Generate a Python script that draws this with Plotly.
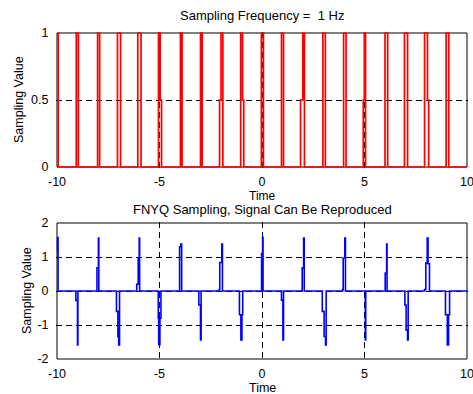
import plotly.graph_objects as go

# ---- data ----
# top panel: step signal (value changes at given times)
top_t = [-10, -9.94, -9.06, -8.96, -8.02, -7.92, -7.05, -6.9, -6.06, -5.9,
         -5.05, -4.97, -4.9, -3.98, -3.9, -3.0, -2.92, -2.07, -2.0, -1.91,
         -1.04, -0.95, -0.89, -0.03, 0.07, 0.95, 1.05, 1.88, 1.99, 2.07,
         2.97, 3.09, 3.98, 4.1, 4.94, 4.99, 5.05, 6.0, 6.13, 6.95, 7.1,
         7.93, 8.07, 8.13, 8.98, 9.11, 10]
top_v = [1, 0, 1, 0, 1, 0, 1, 0, 1, 0,
         1, 0.5, 0, 1, 0, 1, 0, 0.5, 1, 0,
         1, 0.5, 0, 1, 0, 1, 0, 0.5, 1, 0,
         1, 0, 1, 0, 0.5, 1, 0, 1, 0, 1, 0,
         1, 0.5, 0, 1, 0, 0]

# bottom panel: sampled signal (value changes at given times)
bot_t = [-10.0, -9.97, -9.95,
         -9.08, -9.0, -8.98,
         -8.05, -7.98, -7.96,
         -7.1, -7.03, -6.99, -6.95,
         -6.11, -6.04, -5.99, -5.97,
         -5.06, -5.04, -4.98, -4.93,
         -4.02, -3.96, -3.92,
         -3.08, -3.0, -2.97,
         -2.1, -2.06, -1.96, -1.93,
         -1.1, -1.03, -0.98, -0.94,
         -0.02, 0.03, 0.05,
         0.95, 1.02, 1.05,
         1.96, 2.03, 2.06,
         2.94, 3.03, 3.1, 3.13,
         3.93, 3.96, 4.04, 4.07,
         5.04, 5.06,
         6.01, 6.08, 6.1,
         6.97, 7.03, 7.1, 7.13,
         7.93, 7.99, 8.06, 8.1, 8.17,
         8.95, 9.04, 9.1, 9.15,
         10.0]
bot_v = [1.15, 1.57, 0,
         -0.28, -1.59, 0,
         0.68, 1.56, 0,
         -0.6, -1.34, -1.59, 0,
         0.2, 0.97, 1.56, 0,
         -0.8, -1.58, -0.8, 0,
         1.3, 1.38, 0,
         -0.41, -1.44, 0,
         0.03, 0.84, 1.38, 0,
         -0.7, -1.44, -0.7, 0,
         1.1, 1.58, 0,
         -0.27, -1.44, 0,
         0.68, 1.56, 0,
         -0.6, -1.34, -1.59, 0,
         0.04, 0.97, 1.56, 0,
         -1.44, 0,
         0.53, 1.38, 0,
         -0.41, -1.15, -1.44, 0,
         0.04, 0.82, 1.56, 0.8, 0,
         -0.7, -1.59, -0.7, 0,
         0]

x_ticks = [-10, -5, 0, 5, 10]
x_ticktext = ["-10", "-5", "0", "5", "10"]
top_yticks = [0, 0.5, 1]
top_yticktext = ["0", "0.5", "1"]
bot_yticks = [-2, -1, 0, 1, 2]
bot_yticktext = ["-2", "-1", "0", "1", "2"]

title_top = "Sampling Frequency =  1 Hz"
title_bot = "FNYQ Sampling, Signal Can Be Reproduced"
xlabel = "Time"
ylabel = "Sampling Value"

# ---- figure ----
W, H = 473, 394
FONT = "Liberation Sans, Arial, sans-serif"

fig = go.Figure()
fig.add_trace(go.Scatter(x=top_t, y=top_v, mode="lines", line_shape="hv",
                         line=dict(color="#FF0000", width=1.7),
                         xaxis="x", yaxis="y", showlegend=False, hoverinfo="skip"))
fig.add_trace(go.Scatter(x=bot_t, y=bot_v, mode="lines", line_shape="hv",
                         line=dict(color="#0000FF", width=1.6),
                         xaxis="x2", yaxis="y2", showlegend=False, hoverinfo="skip"))

px_x = 20.5  # px per unit on x
xr = [-10 - 1 / px_x, 10 + 1 / px_x]
xdom = [56 / W, 468 / W]

common_x = dict(range=xr, domain=xdom, tickvals=x_ticks, ticktext=x_ticktext,
                showgrid=True, gridcolor="black", gridwidth=1, griddash="6px,4px",
                zeroline=False, showline=False, ticks="outside", ticklen=2,
                tickcolor="rgba(0,0,0,0)", tickfont=dict(family=FONT, size=12.5, color="black"),
                automargin=False, ticklabeloverflow="allow", fixedrange=True)
common_y = dict(showgrid=True, gridcolor="black", gridwidth=1, griddash="6px,4px",
                zeroline=False, showline=False, ticks="outside", ticklen=4,
                tickcolor="rgba(0,0,0,0)", tickfont=dict(family=FONT, size=12.5, color="black"),
                automargin=False, ticklabeloverflow="allow", fixedrange=True)

fig.update_layout(
    template="none",
    width=W, height=H,
    margin=dict(l=0, r=0, t=0, b=0, autoexpand=False),
    paper_bgcolor="white", plot_bgcolor="white",
    xaxis=dict(anchor="y", **common_x),
    yaxis=dict(anchor="x", domain=[1 - 168 / H, 1 - 32 / H],
               range=[-1 / 134, 1 + 1 / 134], tickvals=top_yticks, ticktext=top_yticktext,
               **common_y),
    xaxis2=dict(anchor="y2", **common_x),
    yaxis2=dict(anchor="x2", domain=[1 - 360 / H, 1 - 222 / H],
                range=[-2 - 1 / 34, 2 + 1 / 34], tickvals=bot_yticks, ticktext=bot_yticktext,
                **common_y),
    shapes=[
        dict(type="rect", xref="x", yref="y", x0=-10, x1=10, y0=0, y1=1,
             line=dict(color="black", width=1), layer="between"),
        dict(type="rect", xref="x2", yref="y2", x0=-10, x1=10, y0=-2, y1=2,
             line=dict(color="black", width=1), layer="between"),
    ],
)

def ann(text, x, y, size=12.5, angle=0):
    fig.add_annotation(text=text, xref="paper", yref="paper", x=x / W, y=1 - y / H,
                       xanchor="center", yanchor="middle", showarrow=False, textangle=angle,
                       font=dict(family=FONT, size=size, color="black"))

ann(title_top, 262, 15, 13)
ann(xlabel, 262, 195.5, 12)
ann(title_bot, 262, 209, 13)
ann(xlabel, 262, 388, 12.5)
ann(ylabel, 19, 100, 12.5, -90)
ann(ylabel, 27, 291, 12.5, -90)

fig.write_html("out.html")
